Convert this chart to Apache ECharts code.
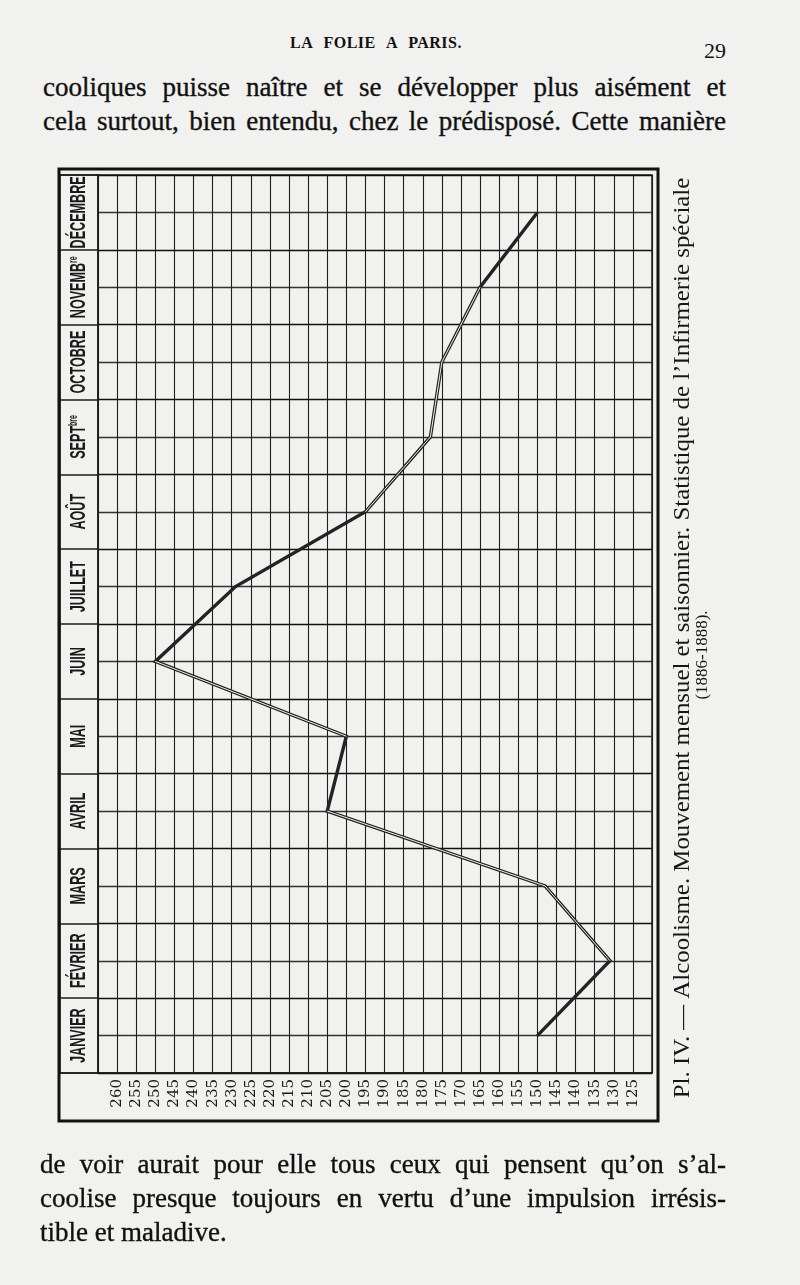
<!DOCTYPE html>
<html>
<head>
<meta charset="utf-8">
<script src="https://cdn.jsdelivr.net/npm/echarts@6/dist/echarts.min.js"></script>
<style>
  html, body { margin: 0; padding: 0; }
  body { width: 800px; height: 1285px; background: #f1f1ef; position: relative; overflow: hidden;
         font-family: "Liberation Serif", "DejaVu Serif", serif; color: #111; }
  #chart { position: absolute; left: 0; top: 0; width: 800px; height: 1285px; }
  .head { position: absolute; top: 34px; left: 290px; width: 172px; text-align: justify; text-align-last: justify;
          font-size: 16px; font-weight: bold; letter-spacing: 0.5px; }
  .folio { position: absolute; top: 38px; left: 704px; font-size: 22px; }
  .txt { position: absolute; left: 43px; width: 683px; font-size: 27px; line-height: 34px; -webkit-text-stroke: 0.35px #111; }
  .txt div { text-align: justify; text-align-last: justify; }
  .txt div.last { text-align-last: left; }
</style>
</head>
<body>
<div class="head">LA FOLIE A PARIS.</div>
<div class="folio">29</div>
<div class="txt" style="top:70px">
  <div>cooliques puisse naître et se développer plus aisément et</div>
  <div>cela surtout, bien entendu, chez le prédisposé. Cette manière</div>
</div>
<div id="chart"></div>
<div class="txt" style="top:1147px;left:40px;width:686px">
  <div>de voir aurait pour elle tous ceux qui pensent qu’on s’al-</div>
  <div>coolise presque toujours en vertu d’une impulsion irrésis-</div>
  <div class="last">tible et maladive.</div>
</div>
<script>
// mois, de bas (janvier) en haut (décembre)
const months = ['JANVIER', 'FÉVRIER', 'MARS', 'AVRIL', 'MAI', 'JUIN', 'JUILLET', 'AOÛT', 'SEPT', 'OCTOBRE', 'NOVEMB', 'DÉCEMBRE']
const monthSup = ['', '', '', '', '', '', '', '', 'bre', '', 're', '']
// entrées mensuelles
const admissions = [150, 131, 148, 205, 200, 250, 229, 195, 178, 175, 165, 150]
// segments dessinés en double trait (creux)
const hollowSegments = [[1, 2], [2, 3], [4, 5], [7, 8], [8, 9], [9, 10]]
const valueMin = 120
const valueMax = 265
const valueStep = 5
const captionLine1 = 'Pl. IV. — Alcoolisme. Mouvement mensuel et saisonnier. Statistique de l’Infirmerie spéciale'
const captionLine2 = '(1886-1888).'

const chart = echarts.init(document.getElementById('chart'), null, { renderer: 'canvas' })

// y = 2*i+1 : milieu de la bande du mois (chaque mois = 2 rangées)
const linePoints = admissions.map((v, i) => [v, 2 * i + 1])

let hollowSeries = hollowSegments.map(seg => ({
  type: 'line',
  xAxisIndex: 1,
  yAxisIndex: 1,
  symbol: 'none',
  silent: true,
  z: 4,
  lineStyle: { color: '#f1f1ef', width: 1 },
  data: seg.map(i => linePoints[i])
}))

let option = {
  animation: false,
  backgroundColor: 'transparent',
  grid: [
    { // colonne des mois
      left: 60, top: 175, width: 38, height: 898,
      show: true, borderColor: '#1a1a1a', borderWidth: 1.5
    },
    { // quadrillage
      left: 98, top: 175, width: 554, height: 898,
      show: true, borderColor: '#1a1a1a', borderWidth: 1.5
    }
  ],
  xAxis: [
    { gridIndex: 0, type: 'value', min: 0, max: 1, show: false },
    {
      gridIndex: 1,
      type: 'value',
      min: valueMin,
      max: valueMax,
      interval: valueStep,
      inverse: true,
      position: 'bottom',
      axisLine: { show: true, lineStyle: { color: '#1a1a1a', width: 1.5 } },
      axisTick: { show: false },
      splitLine: { show: true, lineStyle: { color: '#1e1e1e', width: 1.1 } },
      axisLabel: {
        rotate: 90,
        margin: 6,
        color: '#1a1a1a',
        fontFamily: 'DejaVu Serif',
        fontSize: 15,
        formatter: v => (v === valueMin || v === valueMax) ? '' : String(v)
      }
    }
  ],
  yAxis: [
    {
      gridIndex: 0, type: 'value', min: 0, max: 12, interval: 1,
      axisLine: { show: false }, axisTick: { show: false }, axisLabel: { show: false },
      splitLine: { show: true, lineStyle: { color: '#1a1a1a', width: 1.5 } }
    },
    {
      gridIndex: 1, type: 'value', min: 0, max: 24, interval: 1,
      axisLine: { show: false }, axisTick: { show: false }, axisLabel: { show: false },
      splitLine: { show: true, lineStyle: { color: ['#111', '#333'], width: 1.3 } }
    }
  ],
  series: [
    {
      type: 'line',
      xAxisIndex: 1,
      yAxisIndex: 1,
      symbol: 'none',
      silent: true,
      z: 3,
      lineStyle: { color: '#232323', width: 3.4, join: 'miter' },
      data: linePoints
    },
    ...hollowSeries
  ],
  graphic: [
    {
      type: 'rect',
      shape: { x: 59, y: 169, width: 599, height: 952 },
      style: { fill: 'none', stroke: '#111', lineWidth: 3 },
      silent: true
    },
    {
      type: 'text',
      x: 683, y: 638,
      rotation: Math.PI / 2,
      scaleX: 1.08,
      style: { text: captionLine1, align: 'center', verticalAlign: 'middle',
        font: '23px "Liberation Serif", serif', fill: '#161616' }
    },
    {
      type: 'text',
      x: 703, y: 655,
      rotation: Math.PI / 2,
      style: { text: captionLine2, align: 'center', verticalAlign: 'middle',
        font: '17px "Liberation Serif", serif', fill: '#161616' }
    }
  ]
}

chart.setOption(option)

// noms des mois : texte vertical étroit, placé au milieu de chaque bande de la colonne
const monthLabels = months.map((m, i) => {
  const p = chart.convertToPixel({ gridIndex: 0 }, [0.5, i + 0.5])
  return {
    type: 'text',
    x: p[0], y: p[1],
    rotation: Math.PI / 2,
    scaleX: 0.7,
    scaleY: 1.25,
    silent: true,
    style: {
      text: monthSup[i] ? '{m|' + m + '}{s|' + monthSup[i] + '}' : '{m|' + m + '}',
      align: 'center',
      verticalAlign: 'middle',
      rich: {
        m: { fontFamily: '"Liberation Sans", Arial, sans-serif', fontWeight: 'bold', fontSize: 18, fill: '#1a1a1a' },
        s: { fontFamily: '"Liberation Sans", Arial, sans-serif', fontWeight: 'bold', fontSize: 10, fill: '#1a1a1a', verticalAlign: 'top' }
      }
    }
  }
})
chart.setOption({ graphic: option.graphic.concat(monthLabels) })
</script>
</body>
</html>
